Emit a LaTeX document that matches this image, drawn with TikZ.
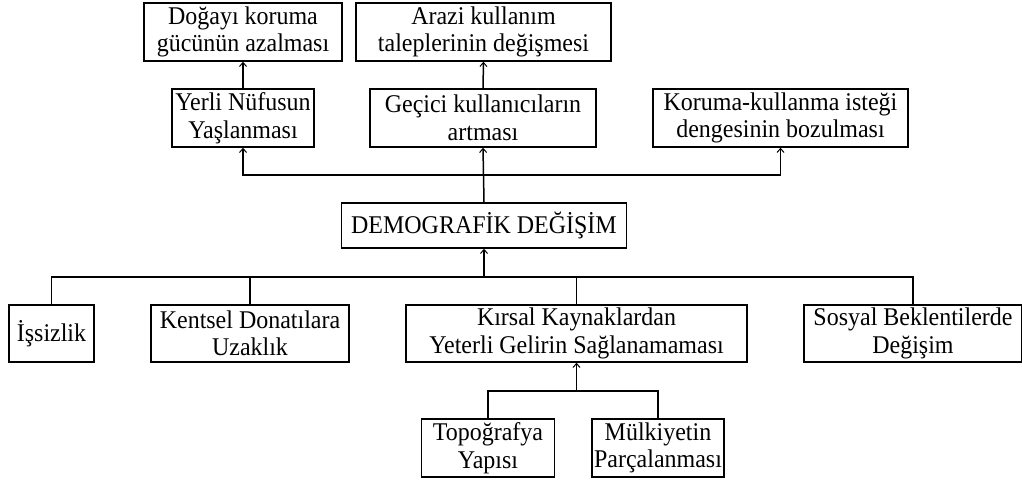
\documentclass[tikz,border=0pt]{standalone}
\usepackage{fontspec}
\setmainfont{Liberation Serif}[FakeStretch=0.94]
\usetikzlibrary{arrows.meta}
\tikzset{
  box/.style={draw, line width=1.5pt, inner sep=0pt, align=center, font=\fontsize{25.5}{27.5}\selectfont},
  link/.style={line width=1.5pt},
  arr/.style={link, -{Straight Barb[length=4pt,width=7pt,line width=1pt]}}
}
\begin{document}
\begin{tikzpicture}[x=1pt,y=-1pt]
\useasboundingbox (0,0) rectangle (1022,484);
% top row
\node[box, minimum width=198, minimum height=58] (dogayi) at (243,32) {Doğayı koruma\\gücünün azalması};
\node[box, minimum width=255, minimum height=58] (arazi) at (483.5,32) {Arazi kullanım\\taleplerinin değişmesi};
% second row
\node[box, minimum width=142, minimum height=58] (yerli) at (243,118) {Yerli Nüfusun\\Yaşlanması};
\node[box, minimum width=226, minimum height=58] (gecici) at (483,118) {Geçici kullanıcıların\\artması};
\node[box, minimum width=255, minimum height=58] (koruma) at (780.5,118) {Koruma-kullanma isteği\\dengesinin bozulması};
% center
\node[box, minimum width=285, minimum height=45] (demog) at (484,225.5) {DEMOGRAFİK DEĞİŞİM};
% bottom row
\node[box, minimum width=85, minimum height=57] (issiz) at (51.5,333.5) {İşsizlik};
\node[box, minimum width=198, minimum height=57] (kentsel) at (250,333.5) {Kentsel Donatılara\\Uzaklık};
\node[box, minimum width=341, minimum height=57] (kirsal) at (576.5,333.5) {Kırsal Kaynaklardan\\Yeterli Gelirin Sağlanamaması};
\node[box, minimum width=218, minimum height=57] (sosyal) at (913,333.5) {Sosyal Beklentilerde\\Değişim};
% lowest row
\node[box, minimum width=133, minimum height=58] (topo) at (488,448) {Topoğrafya\\Yapısı};
\node[box, minimum width=132, minimum height=58] (mulk) at (658,448) {Mülkiyetin\\Parçalanması};
% junctions
\coordinate (jt) at (484,175);
\coordinate (jb) at (484,277);
\coordinate (jl) at (576.5,391);
% connectors
\draw[arr] (yerli.north) -- (dogayi.south);
\draw[arr] (gecici.north) -- (arazi.south);
\draw[arr] (demog.north) -- (gecici.south);
\draw[arr] (jt) -| (yerli.south);
\draw[arr] (jt) -| (koruma.south);
\draw[arr] (jb) -- (demog.south);
\draw[link] (jb) -| (issiz.north);
\draw[link] (jb) -| (kentsel.north);
\draw[link] (jb) -| (kirsal.north);
\draw[link] (jb) -| (sosyal.north);
\draw[arr] (jl) -- (kirsal.south);
\draw[link] (jl) -| (topo.north);
\draw[link] (jl) -| (mulk.north);
\end{tikzpicture}
\end{document}
